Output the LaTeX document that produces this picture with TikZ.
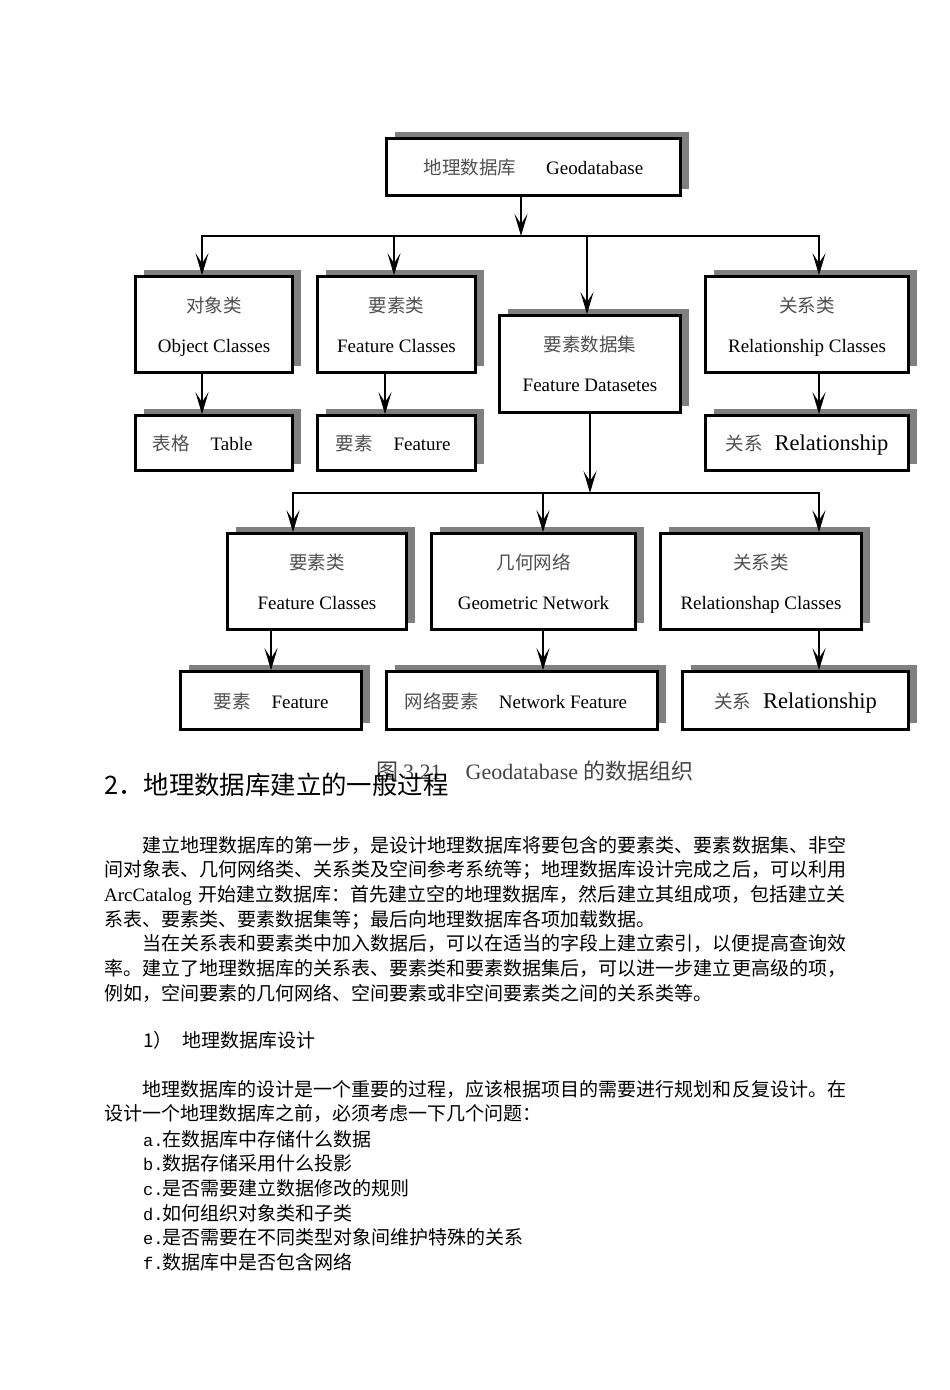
\documentclass[tikz,border=0pt]{standalone}
\usepackage{fontspec}
\setmainfont{Liberation Serif}
\newfontfamily\cjk{Noto Sans CJK SC}
\newfontfamily\monof{Liberation Mono}
\usetikzlibrary{arrows.meta,shadows}
\XeTeXlinebreaklocale "zh"
\XeTeXlinebreakskip=0pt plus 1pt
\definecolor{shadowgray}{HTML}{808080}
\definecolor{cjkgray}{HTML}{505050}
\definecolor{capgray}{HTML}{444444}
\newcommand{\zhtxt}[1]{{\cjk\fontsize{18.5}{40}\selectfont\color{cjkgray}#1}}
\newcommand{\bigrel}{{\fontsize{22.5}{22.5}\selectfont Relationship}}
\newcommand{\lst}[1]{\makebox[19pt][l]{\monof\fontsize{17}{17}\selectfont #1}}
\tikzset{
  box/.style={draw=black, line width=2.6pt, fill=white, inner sep=0pt, align=center,
    text depth=0pt,
    drop shadow={shadow xshift=8pt, shadow yshift=7pt, fill=shadowgray, opacity=1},
    font=\fontsize{19}{40}\selectfont},
  arr/.style={line width=1.8pt, -{Stealth[length=22pt,width=13pt,inset=10pt]}},
  conn/.style={line width=1.8pt, line cap=rect},
  bodytxt/.style={anchor=base west, inner sep=0pt, font=\cjk\fontsize{19}{24.7}\selectfont},
}
\begin{document}
\begin{tikzpicture}[x=1pt,y=-1pt]
\useasboundingbox (0,0) rectangle (950,1390);
\fill[white] (0,0) rectangle (950,1390);

% ---- boxes ----
\node[box, minimum width=294pt, minimum height=57pt] (root) at (533.5,167)
  {\zhtxt{地理数据库}\hspace{30pt}Geodatabase};

\node[box, minimum width=157pt, minimum height=96pt] (OC) at (214,324.5)
  {\zhtxt{对象类}\\Object Classes};
\node[box, minimum width=158pt, minimum height=96pt] (FC1) at (396.5,324.5)
  {\zhtxt{要素类}\\Feature Classes};
\node[box, minimum width=181pt, minimum height=97pt] (FD) at (590,364)
  {\zhtxt{要素数据集}\\Feature Datasetes};
\node[box, minimum width=203pt, minimum height=96pt] (RC1) at (807,324.5)
  {\zhtxt{关系类}\\Relationship Classes};

\node[box, minimum width=157pt, minimum height=55pt] (TB) at (214,443)
  {\zhtxt{表格}\hspace{21pt}Table\hspace*{23pt}};
\node[box, minimum width=158pt, minimum height=55pt] (FE1) at (396.5,443)
  {\zhtxt{要素}\hspace{21pt}Feature\hspace*{7pt}};
\node[box, minimum width=203pt, minimum height=55pt] (RL1) at (807,443)
  {\zhtxt{关系}\hspace{12pt}\bigrel};

\node[box, minimum width=179pt, minimum height=96pt] (FC2) at (317,581.5)
  {\zhtxt{要素类}\\Feature Classes};
\node[box, minimum width=204pt, minimum height=96pt] (GN) at (533.5,581.5)
  {\zhtxt{几何网络}\\Geometric Network};
\node[box, minimum width=201pt, minimum height=96pt] (RC2) at (761,581.5)
  {\zhtxt{关系类}\\Relationshap Classes};

\node[box, minimum width=181pt, minimum height=58pt] (FE2) at (271,700.5)
  {\zhtxt{要素}\hspace{21pt}Feature};
\node[box, minimum width=271pt, minimum height=58pt] (NF) at (522,700.5)
  {\zhtxt{网络要素}\hspace{20pt}Network Feature\hspace*{12pt}};
\node[box, minimum width=226pt, minimum height=58pt] (RL2) at (795.5,700.5)
  {\zhtxt{关系}\hspace{12pt}\bigrel};

% ---- junction coordinates ----
\coordinate (b1) at (521,236);
\coordinate (b1L) at (202,236);
\coordinate (b1F) at (394,236);
\coordinate (b1D) at (587,236);
\coordinate (b1R) at (819,236);
\coordinate (b2) at (590,493);
\coordinate (b2L) at (293,493);
\coordinate (b2G) at (543,493);
\coordinate (b2R) at (819,493);

% ---- connectors ----
\draw[conn] (b1L) -- (b1R);
\draw[arr] (root.south -| b1) -- (b1);
\draw[arr] (b1L) -- (OC.north -| b1L);
\draw[arr] (b1F) -- (FC1.north -| b1F);
\draw[arr] (b1D) -- (FD.north -| b1D);
\draw[arr] (b1R) -- (RC1.north -| b1R);

\draw[arr] (OC.south -| b1L) -- (TB.north -| b1L);
\draw[arr] ([xshift=-11.5pt]FC1.south) -- ([xshift=-11.5pt]FE1.north);
\draw[arr] (RC1.south -| b1R) -- (RL1.north -| b1R);

\draw[conn] (b2L) -- (b2R);
\draw[arr] (FD.south -| b2) -- (b2);
\draw[arr] (b2L) -- (FC2.north -| b2L);
\draw[arr] (b2G) -- (GN.north -| b2G);
\draw[arr] (b2R) -- (RC2.north -| b2R);

\draw[arr] (FC2.south -| FE2) -- (FE2.north);
\draw[arr] (GN.south -| b2G) -- (NF.north -| b2G);
\draw[arr] (RC2.south -| b2R) -- (RL2.north -| b2R);

% ---- caption and heading ----
\node[anchor=base west, inner sep=0pt, text=capgray, font=\fontsize{22}{22}\selectfont] (cap) at (376,779)
  {{\cjk 图}\hspace{5pt}3.21\hspace{24pt}Geodatabase {\cjk 的数据组织}};
\node[anchor=base west, inner sep=0pt, font=\cjk\fontsize{25.4}{25.4}\selectfont] (h2) at (104,794.5)
  {2．地理数据库建立的一般过程};

% ---- body text ----
\node[bodytxt, text width=743pt] (p1) at (104,852)
  {\hspace*{38pt}建立地理数据库的第一步，是设计地理数据库将要包含的要素类、要素数据集、非空\linebreak
   间对象表、几何网络类、关系类及空间参考系统等；地理数据库设计完成之后，可以利用\linebreak
   {\rmfamily ArcCatalog }开始建立数据库：首先建立空的地理数据库，然后建立其组成项，包括建立关\linebreak
   系表、要素类、要素数据集等；最后向地理数据库各项加载数据。};
\node[bodytxt, text width=743pt] (p2) at (104,950.8)
  {\hspace*{38pt}当在关系表和要素类中加入数据后，可以在适当的字段上建立索引，以便提高查询效\linebreak
   率。建立了地理数据库的关系表、要素类和要素数据集后，可以进一步建立更高级的项，\linebreak
   例如，空间要素的几何网络、空间要素或非空间要素类之间的关系类等。};

\node[bodytxt] (h3) at (143,1047)
  {1）\hspace{9.5pt}地理数据库设计};

\node[bodytxt, text width=743pt] (p3) at (104,1096)
  {\hspace*{38pt}地理数据库的设计是一个重要的过程，应该根据项目的需要进行规划和反复设计。在\linebreak
   设计一个地理数据库之前，必须考虑一下几个问题：};

\node[bodytxt] (la) at (143,1146)   {\lst{a.}在数据库中存储什么数据};
\node[bodytxt] (lb) at (143,1170.7) {\lst{b.}数据存储采用什么投影};
\node[bodytxt] (lc) at (143,1195.4) {\lst{c.}是否需要建立数据修改的规则};
\node[bodytxt] (ld) at (143,1220.1) {\lst{d.}如何组织对象类和子类};
\node[bodytxt] (le) at (143,1244.8) {\lst{e.}是否需要在不同类型对象间维护特殊的关系};
\node[bodytxt] (lf) at (143,1269.5) {\lst{f.}数据库中是否包含网络};
\end{tikzpicture}
\end{document}
